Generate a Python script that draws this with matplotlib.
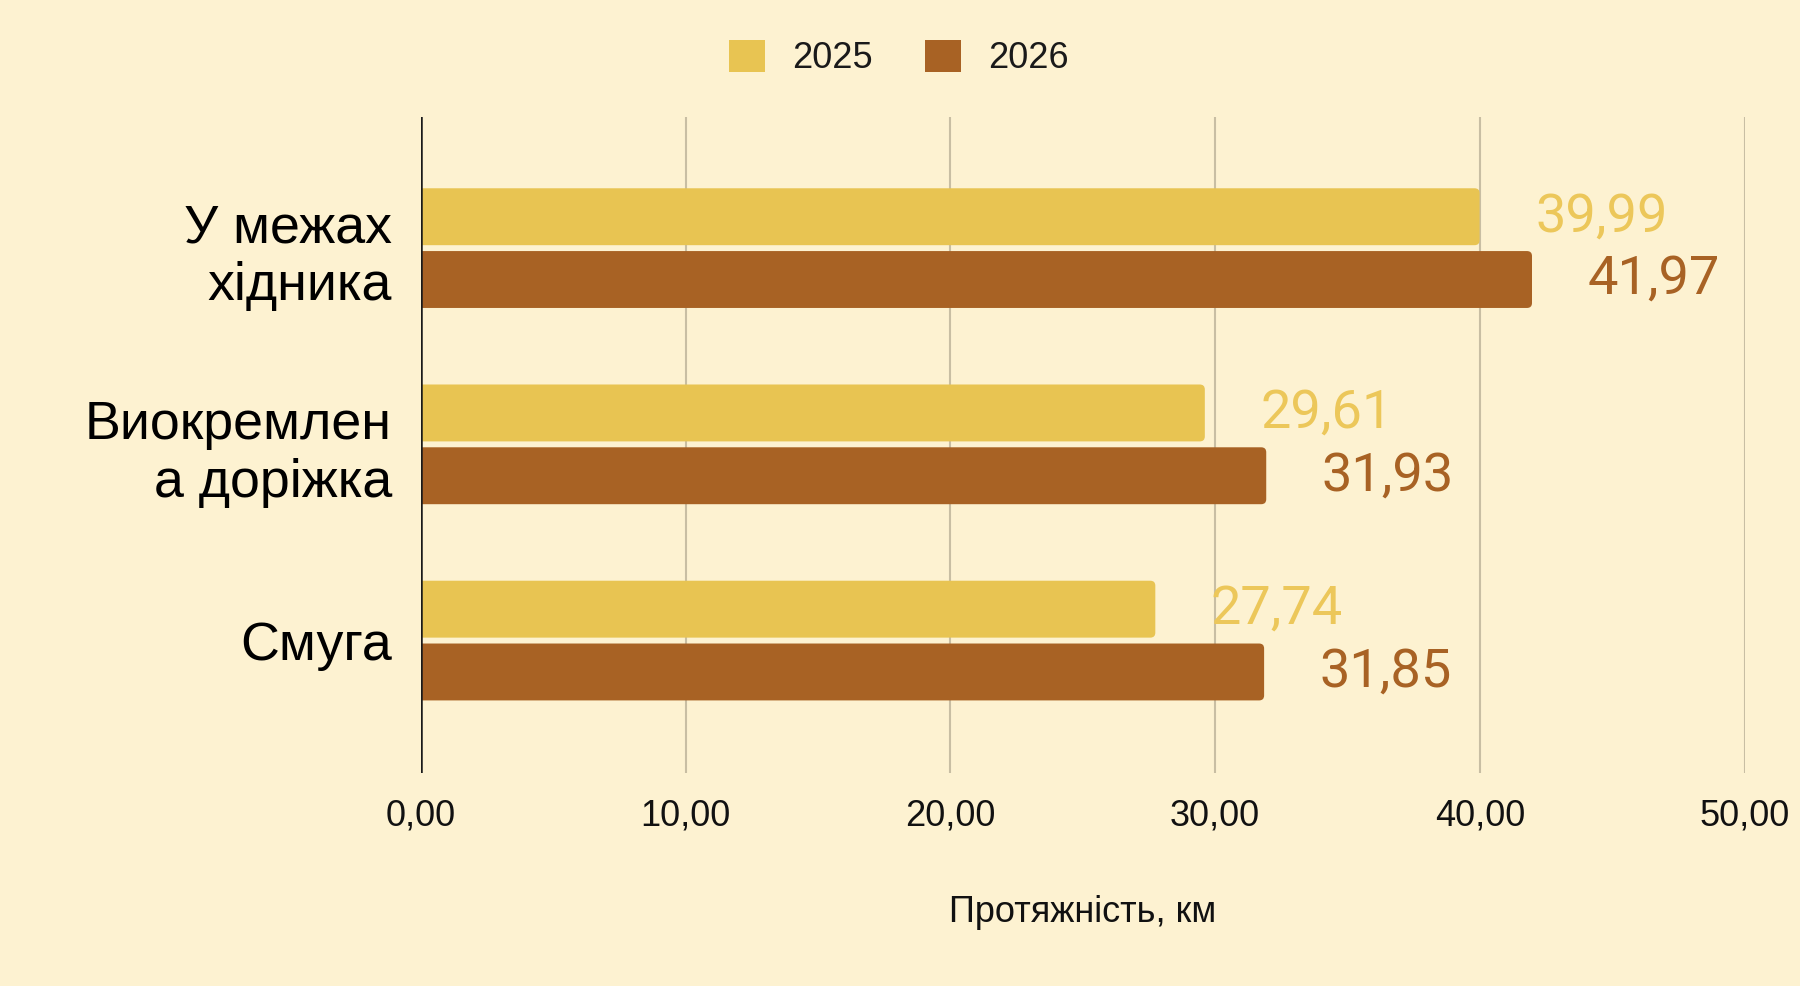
import matplotlib
matplotlib.use("Agg")
import matplotlib.pyplot as plt
from matplotlib.patches import FancyBboxPatch, Rectangle
from matplotlib.ticker import FuncFormatter
import numpy as np

categories = ["У межах\nхідника", "Виокремлен\nа доріжка", "Смуга"]
series_names = ["2025", "2026"]
values_2025 = [39.99, 29.61, 27.74]
values_2026 = [41.97, 31.93, 31.85]
x_ticks = [0, 10, 20, 30, 40, 50]
x_title = "Протяжність, км"

BG = "#FDF2D1"
C25 = "#E8C452"
C26 = "#A86224"
C25_TXT = "#ECC75A"
GRID = "#C8BEA3"
SANS = ["Liberation Sans", "DejaVu Sans"]
ROBOTO = ["Roboto", "DejaVu Sans"]

fig = plt.figure(figsize=(18, 9.86), dpi=100, facecolor=BG)
ax = fig.add_axes([0.2339, 0.216, 0.9692 - 0.2339, 0.8813 - 0.216])
ax.set_facecolor(BG)

y = np.arange(len(categories))
h = 0.29
off = 0.16

ax.set_xlim(0, 50)
ax.set_ylim(2.675, -0.668)

def rounded_barh(ypos, vals, color):
    bars = ax.barh(ypos, vals, height=h, color=color, zorder=3)
    for b in bars:
        b.set_visible(False)
        x0, y0 = b.get_x(), b.get_y()
        w, hh = b.get_width(), b.get_height()
        r = 0.19
        p = FancyBboxPatch((x0 - 1.0, y0), w + 1.0, hh,
                           boxstyle=f"round,pad=0,rounding_size={r}",
                           mutation_aspect=0.134,
                           facecolor=color, edgecolor="none", zorder=3)
        ax.add_patch(p)
    return bars

b1 = rounded_barh(y - off, values_2025, C25)
b2 = rounded_barh(y + off, values_2026, C26)

for yy, v in zip(y - off, values_2025):
    ax.annotate(f"{v:.2f}".replace(".", ","), (v, yy), xytext=(40, 0),
                textcoords="offset points", va="center", ha="left",
                fontsize=39, color=C25_TXT, family=ROBOTO, zorder=4)
for yy, v in zip(y + off, values_2026):
    ax.annotate(f"{v:.2f}".replace(".", ","), (v, yy), xytext=(40, 0),
                textcoords="offset points", va="center", ha="left",
                fontsize=39, color=C26, family=ROBOTO, zorder=4)

for s in ax.spines.values():
    s.set_visible(False)

ax.set_xticks(x_ticks)
ax.xaxis.set_major_formatter(FuncFormatter(lambda v, p: f"{v:.2f}".replace(".", ",")))
ax.grid(axis="x", color=GRID, linewidth=1.5, zorder=1)
ax.axvline(0, color="#1a1a1a", linewidth=1.8, zorder=5)
ax.tick_params(axis="x", length=0, pad=18, labelsize=26, labelcolor="#111111")
for t in ax.get_xticklabels():
    t.set_family(SANS)

ax.set_yticks(y)
ax.set_yticklabels(categories, fontsize=38.7, family=SANS, color="#000000",
                   ha="right", multialignment="right", linespacing=1.2)
ax.tick_params(axis="y", length=0, pad=21)

fig.text(0.6015, 0.0649, x_title, ha="center", va="baseline",
         fontsize=26, family=SANS, color="#111111")

handles = [Rectangle((0, 0), 1, 1, facecolor=C25, edgecolor="none"),
           Rectangle((0, 0), 1, 1, facecolor=C26, edgecolor="none")]
leg = fig.legend(handles, series_names, loc="center", bbox_to_anchor=(0.4995, 1 - 58 / 986),
                 ncol=2, frameon=False, prop={"family": SANS, "size": 26},
                 handlelength=1.0, handleheight=1.0, handletextpad=0.75,
                 columnspacing=1.45)
for t in leg.get_texts():
    t.set_color("#1a1a1a")

fig.savefig("out.png", dpi=100, facecolor=BG)
